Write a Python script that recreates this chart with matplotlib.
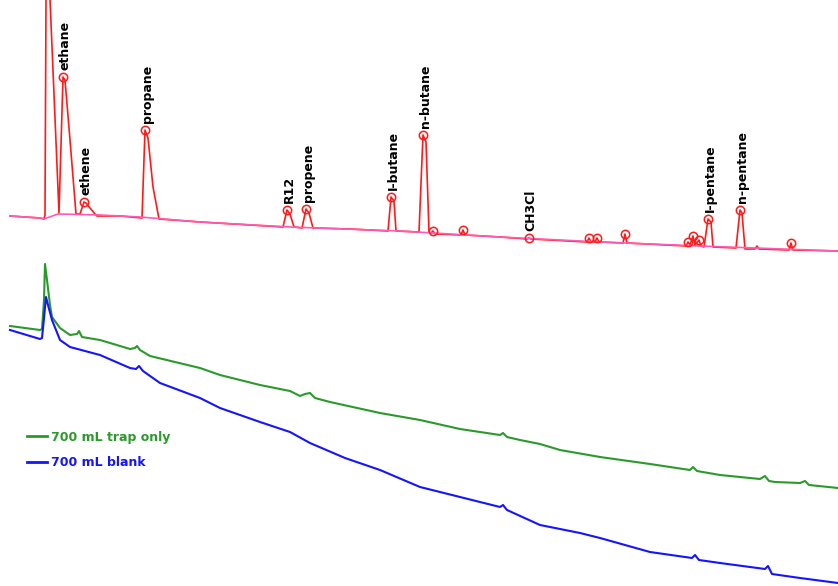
import matplotlib.pyplot as plt

# retention time (x) and detector position (y, downward)
red_t = [10, 40, 44, 45, 46.4, 59, 63, 65, 70, 76, 80, 84, 86, 90, 95, 97, 120,
         142, 145, 148, 153, 159, 200, 250, 283, 287, 290, 294, 302, 306, 309, 313,
         350, 388, 391, 394, 396, 419, 423, 426, 429, 431, 433, 435, 461, 463, 465,
         500, 527, 529, 531, 587, 589, 591, 595, 597, 599, 623, 625, 627, 686, 688,
         690, 693, 695, 699, 701, 704, 708, 711, 713, 736, 740, 742, 745, 755, 757,
         759, 789, 791, 793, 838]
red_y = [216, 218, 219, 215, -86, 213, 77, 80, 140, 214, 214, 202, 203, 208, 214, 216, 216,
         218, 130, 138, 187, 219, 222, 225, 227, 210, 214, 227, 228, 209, 213, 228,
         229, 231, 197, 201, 231, 232, 135, 142, 232, 233, 231, 234, 235, 230, 235,
         237, 239, 238, 239, 242, 238, 242, 242, 238, 242, 243, 234, 243, 246, 242,
         245, 236, 245, 240, 246, 247, 219, 222, 247, 248, 210, 213, 249, 249, 246,
         249, 250, 243, 250, 251]

base_t = [10, 40, 44, 58, 100, 140, 200, 290, 400, 500, 600, 700, 838]
base_y = [216, 218, 219, 214, 215, 217, 222, 227, 231, 237, 242, 246, 251]

peak_names = ["ethane", "ethene", "propane", "R12", "propene", "I-butane",
              "n-butane", "CH3Cl", "I-pentane", "n-pentane"]
peak_t = [63, 84, 145, 287, 306, 391, 423, 529, 708, 740]
peak_y = [77, 202, 130, 210, 209, 197, 135, 238, 219, 210]

small_t = [433, 463, 589, 597, 625, 688, 693, 699, 791]
small_y = [231, 230, 238, 238, 234, 242, 236, 240, 243]

green_t = [10, 40, 42, 44, 45, 47, 50, 52, 60, 70, 77, 79, 82, 100, 130, 135, 137,
           140, 150, 200, 220, 260, 290, 300, 305, 310, 315, 330, 380, 420, 460,
           480, 500, 503, 507, 520, 540, 560, 600, 650, 690, 693, 697, 720, 760, 765,
           769, 775, 800, 805, 809, 838]
green_y = [326, 330, 329, 300, 264, 280, 305, 317, 328, 335, 334, 331, 337, 340, 349, 348, 346,
           350, 356, 368, 375, 385, 391, 396, 394, 393, 398, 402, 413, 420, 429,
           432, 435, 433, 437, 440, 444, 450, 457, 464, 470, 467, 471, 475, 479, 476,
           481, 482, 483, 481, 485, 488]

blue_t = [10, 40, 42, 44, 46, 48, 52, 60, 70, 100, 130, 136, 139, 143, 160, 200,
          220, 260, 290, 310, 345, 380, 420, 460, 500, 503, 507, 540, 580, 600,
          650, 692, 695, 699, 720, 765, 768, 772, 800, 838]
blue_y = [330, 339, 338, 318, 297, 305, 320, 340, 347, 355, 368, 369, 366, 371, 383, 398,
          408, 422, 432, 443, 458, 470, 487, 497, 507, 505, 510, 525, 533, 538,
          552, 558, 555, 560, 563, 569, 566, 574, 578, 583]

series_labels = ["700 mL trap only", "700 mL blank"]

RED = "#ff1a1a"
PINK = "#ff5ab4"
GREEN = "#2a9a2a"
BLUE = "#1414ff"

fig = plt.figure(figsize=(8.38, 5.86), dpi=100)
ax = fig.add_axes([0, 0, 1, 1])
ax.set_xlim(0, 838)
ax.set_ylim(586, 0)
ax.axis("off")

ax.plot(red_t, red_y, color=RED, lw=1.2)
ax.plot(base_t, base_y, color=PINK, lw=1.2)
ax.plot(peak_t + small_t, peak_y + small_y, "o", ms=6, mfc="none", mec=RED, mew=1.1)

for name, t, y in zip(peak_names, peak_t, peak_y):
    ax.annotate(name, (t, y), xytext=(1.5, 5), textcoords="offset points",
                rotation=90, ha="center", va="bottom",
                fontsize=9, fontweight="bold", color="black")

g, = ax.plot(green_t, green_y, color=GREEN, lw=1.5, label=series_labels[0])
b, = ax.plot(blue_t, blue_y, color=BLUE, lw=1.5, label=series_labels[1])

leg = ax.legend(handles=[g, b], loc="upper left", bbox_to_anchor=(0.0185, 0.284),
                frameon=False, handlelength=1.6, handletextpad=0.3,
                labelspacing=1.0, labelcolor="linecolor",
                prop={"size": 9, "weight": "bold"})
for line in leg.get_lines():
    line.set_linewidth(2)

fig.savefig("out.png", dpi=100)
